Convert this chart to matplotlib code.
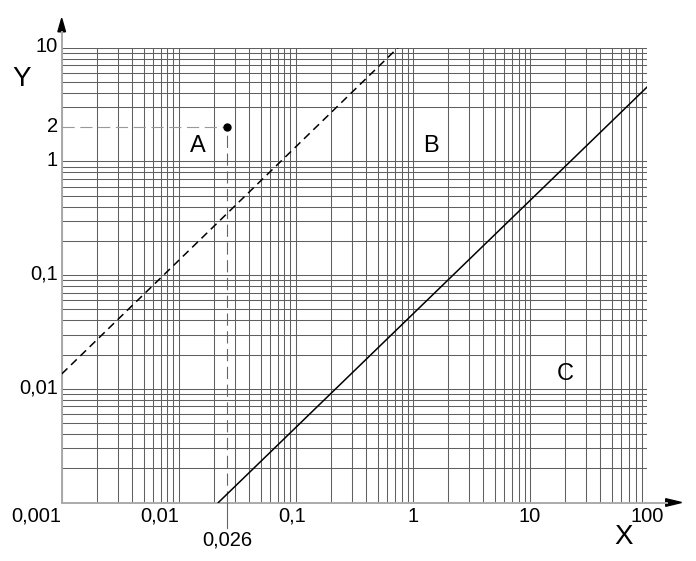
import matplotlib
matplotlib.use("Agg")
import matplotlib.pyplot as plt
import numpy as np
from matplotlib.patches import Polygon

plt.rcParams["font.family"] = ["Liberation Sans", "DejaVu Sans"]

# data
x_ticks = [0.001, 0.01, 0.1, 1, 10, 100]
x_tick_labels = ["0,001", "0,01", "0,1", "1", "10", "100"]
y_ticks = [0.01, 0.1, 1, 2, 10]
y_tick_labels = ["0,01", "0,1", "1", "2", "10"]

dashed_x = [0.001, 0.745]
dashed_y = [0.0135, 10]
solid_x = [0.0218, 100]
solid_y = [0.001, 4.5]

point_x = 0.026
point_y = 2
point_label = "0,026"

regions = ["A", "B", "C"]
region_x = [0.0146, 1.44, 20]
region_y = [1.37, 1.37, 0.0135]

W, H = 696, 561
fig = plt.figure(figsize=(W / 100, H / 100), dpi=100)
ax_w, ax_h = 585.3, 454.8
ax = fig.add_axes([61.7 / W, 58.5 / H, ax_w / W, ax_h / H])
ax.set_xscale("log")
ax.set_yscale("log")
ax.set_xlim(1e-3, 100)
ax.set_ylim(1e-3, 10)

# log grid, no line at y=2 (the dashed guide sits there)
gx = np.append((10.0 ** np.arange(-3, 2))[:, None] * np.arange(1, 10), 100)
gy = np.append((10.0 ** np.arange(-3, 1))[:, None] * np.arange(1, 10), 10)
for v in gx.ravel():
    ax.axvline(v, color="#606060", lw=0.75, zorder=1)
for v in gy.ravel():
    if np.isclose(v, 2):
        continue
    ax.axhline(v, color="#606060", lw=0.75, zorder=1)

for s in ax.spines.values():
    s.set_visible(False)
ax.set_xticks([])
ax.set_yticks([])
ax.minorticks_off()

# axis lines with arrow heads
ax.plot([0, 0], [0, 1.035], transform=ax.transAxes, color="#aaaaaa", lw=1.4,
        clip_on=False, zorder=2)
ax.plot([0, 1.034], [0, 0], transform=ax.transAxes, color="#aaaaaa", lw=1.4,
        clip_on=False, zorder=2)
hw = 3.8
ax.add_patch(Polygon([(-hw / ax_w, 1.035), (hw / ax_w, 1.035), (0, 1.0646)],
                     closed=True, transform=ax.transAxes, color="k", clip_on=False))
ax.add_patch(Polygon([(1.032, -hw / ax_h), (1.032, hw / ax_h), (1.059, 0)],
                     closed=True, transform=ax.transAxes, color="k", clip_on=False))

# tick labels
for v, s in zip(x_ticks, x_tick_labels):
    ha = "right" if v < 0.05 else "center"
    dx = -4 if np.isclose(v, 0.1) else 0
    ax.annotate(s, xy=(v, 0), xycoords=ax.get_xaxis_transform(),
                xytext=(dx, -14), textcoords="offset pixels",
                ha=ha, va="center", fontsize=14.5)
for v, s in zip(y_ticks, y_tick_labels):
    ax.annotate(s, xy=(0, v), xycoords=ax.get_yaxis_transform(),
                xytext=(-4, 1), textcoords="offset pixels",
                ha="right", va="center", fontsize=14.5)
ax.annotate(point_label, xy=(point_x, 0), xycoords=ax.get_xaxis_transform(),
            xytext=(0, -38), textcoords="offset pixels",
            ha="center", va="center", fontsize=14.5)

fig.text(21.7 / W, 1 - 79 / H, "Y", fontsize=20, ha="center", va="center")
fig.text(624 / W, 1 - 537 / H, "X", fontsize=20, ha="center", va="center")

# guide lines to the point
ax.plot([1e-3, point_x], [point_y, point_y], color="#999999", lw=0.8,
        dashes=(11, 5), zorder=3)
ax.plot([point_x, point_x], [1e-3, point_y], color="#666666", lw=0.8,
        dashes=(11, 5), zorder=3)
ax.plot([point_x, point_x], [0, -25 / ax_h], transform=ax.get_xaxis_transform(),
        color="#666666", lw=0.8, clip_on=False, zorder=3)
ax.plot([point_x], [point_y], "o", color="k", ms=5, zorder=5)

# boundary lines
ax.plot(dashed_x, dashed_y, color="k", lw=1.1, dashes=(5.2, 3.3), zorder=4)
ax.plot(solid_x, solid_y, color="k", lw=1.1, zorder=4)

for s, x, y in zip(regions, region_x, region_y):
    ax.text(x, y, s, fontsize=17, ha="center", va="center", zorder=5)

fig.savefig("out.png", dpi=100)
